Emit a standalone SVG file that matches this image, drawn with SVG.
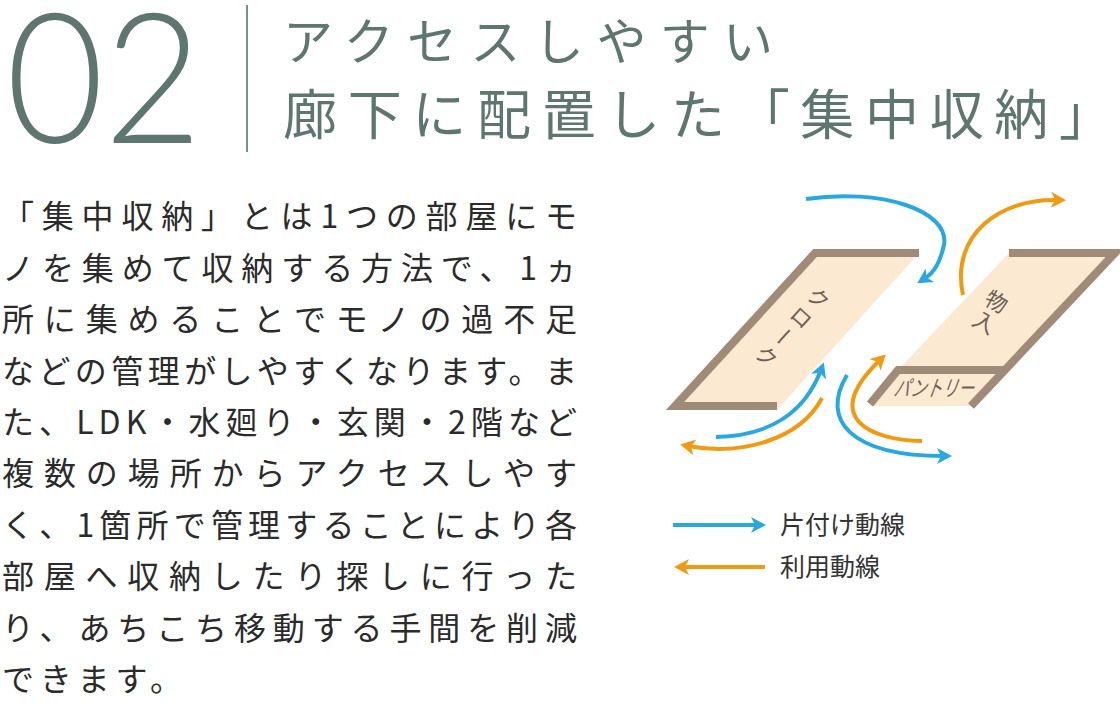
<svg xmlns="http://www.w3.org/2000/svg" width="1120" height="707" viewBox="0 0 1120 707">
<style>
.h{fill:#5e7670;font-family:"Noto Sans CJK JP",sans-serif;}
.b{fill:#2b2b2b;font-family:"Noto Sans CJK JP",sans-serif;font-size:32px;}
.wall{stroke:#a08a78;stroke-width:8;fill:none;}
.room{fill:#fbe9d2;}
.lbl{fill:#6e6055;font-family:"Noto Sans CJK JP",sans-serif;font-size:22px;}
.bl{stroke:#29a7e1;stroke-width:4;fill:none;marker-end:url(#ab);}
.or{stroke:#f09a12;stroke-width:4;fill:none;marker-end:url(#ao);}
.lg{fill:#333;font-family:"Noto Sans CJK JP",sans-serif;font-size:25px;}
</style>
<defs>
<marker id="ab" viewBox="-10 -10 20 20" refX="0" refY="0" markerWidth="20" markerHeight="20" orient="auto" markerUnits="userSpaceOnUse"><path d="M-7,-8 L8,0 L-7,8 L-3,0Z" fill="#29a7e1"/></marker>
<marker id="ao" viewBox="-10 -10 20 20" refX="0" refY="0" markerWidth="20" markerHeight="20" orient="auto" markerUnits="userSpaceOnUse"><path d="M-7,-8 L8,0 L-7,8 L-3,0Z" fill="#f09a12"/></marker>
</defs>
<g id="title">
<text x="6" y="143" style="fill:#5e7670;font-family:Lato,'Liberation Sans',sans-serif;font-weight:300" font-size="182" textLength="196" lengthAdjust="spacingAndGlyphs">02</text>
<line x1="247" y1="5" x2="247" y2="152" stroke="#7d8f8a" stroke-width="2"/>
<text class="h" x="283" y="60" font-size="50" textLength="490" lengthAdjust="spacing">アクセスしやすい</text>
<text class="h" x="283" y="135" font-size="54" textLength="830" lengthAdjust="spacing">廊下に配置した「集中収納」</text>
</g>
<g id="body">
<text class="b" x="2" y="228" textLength="575" lengthAdjust="spacing">「集中収納」とは1つの部屋にモ</text>
<text class="b" x="2" y="280" textLength="575" lengthAdjust="spacing">ノを集めて収納する方法で、1ヵ</text>
<text class="b" x="2" y="331" textLength="575" lengthAdjust="spacing">所に集めることでモノの過不足</text>
<text class="b" x="2" y="383" textLength="575" lengthAdjust="spacing">などの管理がしやすくなります。ま</text>
<text class="b" x="2" y="434" textLength="575" lengthAdjust="spacing">た、LDK・水廻り・玄関・2階など</text>
<text class="b" x="2" y="485" textLength="575" lengthAdjust="spacing">複数の場所からアクセスしやす</text>
<text class="b" x="2" y="537" textLength="575" lengthAdjust="spacing">く、1箇所で管理することにより各</text>
<text class="b" x="2" y="588" textLength="575" lengthAdjust="spacing">部屋へ収納したり探しに行った</text>
<text class="b" x="2" y="640" textLength="575" lengthAdjust="spacing">り、あちこち移動する手間を削減</text>
<text class="b" x="2" y="691" textLength="180" lengthAdjust="spacing">できます。</text>
</g>
<g id="closet">
<polygon class="room" points="815,253 919,253 777,410 671,410"/>
<polyline class="wall" points="919,253 815,253 675,406 777,406"/>
<text class="lbl" transform="translate(826,290) rotate(42)" writing-mode="tb" letter-spacing="4">クローク</text>
</g>
<g id="storage">
<polygon class="room" points="1009,253 1118,253 971,406 869,406 898,370"/>
<polyline class="wall" points="1009,253 1115,253 971,406"/>
<polyline class="wall" points="1003,370 898,370 870,404"/>
<text class="lbl" transform="translate(1002,292) rotate(30)" writing-mode="tb" letter-spacing="2">物入</text>
<text class="lbl" font-size="15" transform="translate(893,396) skewX(-20)" textLength="80" lengthAdjust="spacingAndGlyphs">パントリー</text>
</g>
<g id="connectors">
<path class="bl" d="M806,199 C880,188 950,210 944,245 C940,262 935,272 924,279"/>
<path class="or" d="M963,295 C950,235 1000,198 1058,200"/>
<path class="bl" d="M716,437 C770,436 805,412 821,370"/>
<path class="or" d="M822,398 C800,440 740,456 688,446"/>
<path class="bl" d="M847,375 C820,420 850,456 944,456"/>
<path class="or" d="M922,441 C870,440 820,418 880,360"/>
<line class="bl" x1="673" y1="525" x2="758" y2="525"/>
<line class="or" x1="765" y1="567" x2="682" y2="567"/>
</g>
<g id="legend">
<text class="lg" x="780" y="534">片付け動線</text>
<text class="lg" x="780" y="576">利用動線</text>
</g>
</svg>
